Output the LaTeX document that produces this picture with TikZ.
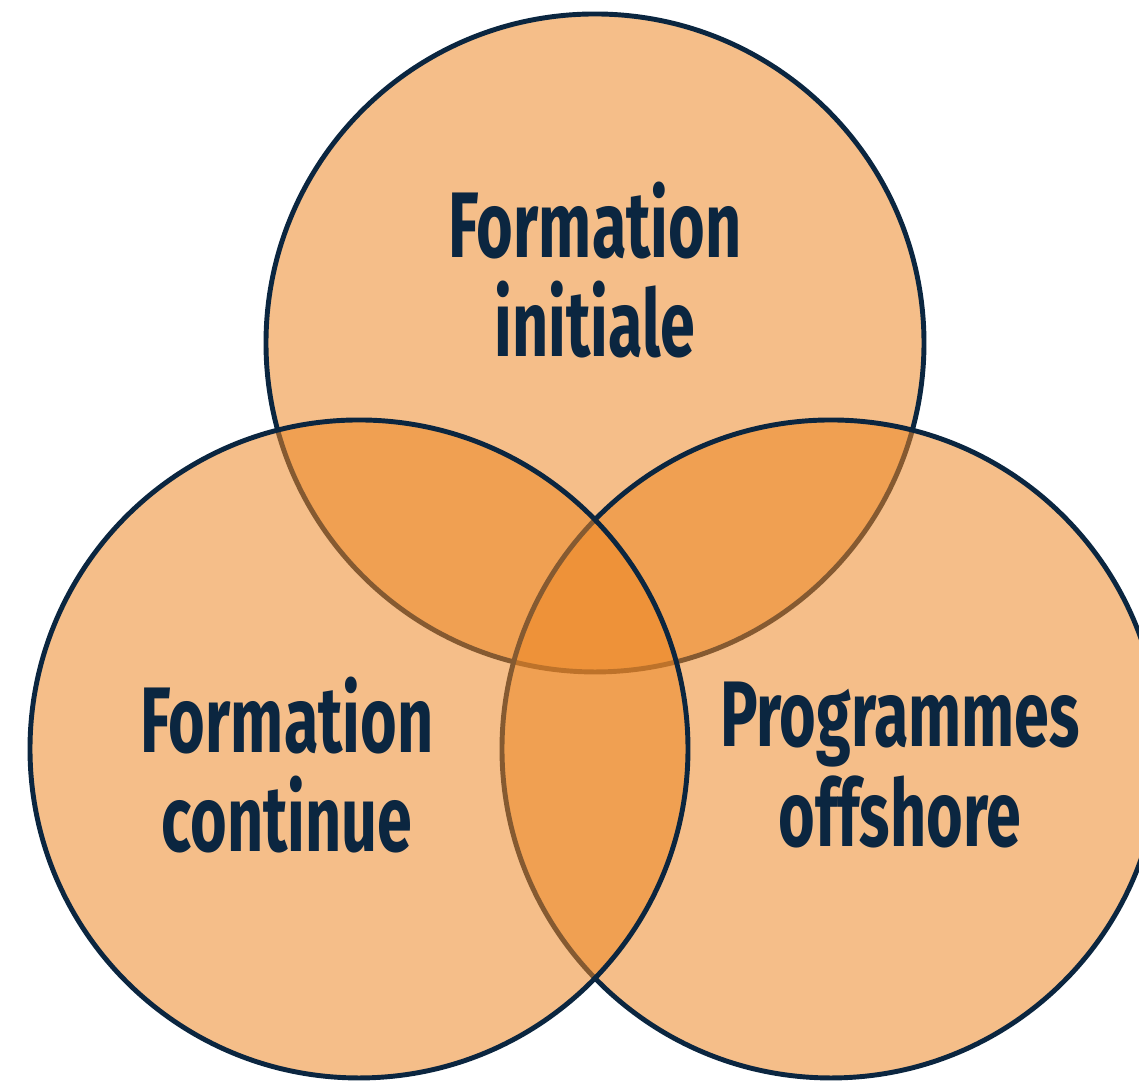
\documentclass[tikz,border=0pt]{standalone}
\usepackage{fontspec}
\newfontfamily\vennfont[FakeStretch=0.675]{Fira Sans}
\usetikzlibrary{positioning}
\definecolor{navy}{RGB}{11,38,64}
\definecolor{tangerine}{RGB}{237,135,37}
\tikzset{
  set/.style={circle,draw=navy,line width=1.4pt,fill=tangerine,fill opacity=0.54,
    minimum size=6.58cm,inner sep=0pt,outer sep=0pt},
  setlabel/.style={text=navy,align=center,font=\vennfont\bfseries\fontsize{26.5}{28.4}\selectfont},
}
\begin{document}
\begin{tikzpicture}
    \clip (0,0) rectangle (11.39,10.81);
    \fill[white] (0,0) rectangle (11.39,10.81);
    \foreach \n/\x/\y in {ini/5.95/7.38,off/8.31/3.32,con/3.59/3.32}{
      \node[set] (\n) at (\x,\y) {};
    }
    \node[setlabel] (tini) at (5.95,8.11) {Formation\\initiale};
    \node[setlabel] (tcon) at (2.87,3.16) {Formation\\continue};
    \node[setlabel] (toff) at (9.0,3.16) {Programmes\\offshore};
  \end{tikzpicture}
\end{document}
